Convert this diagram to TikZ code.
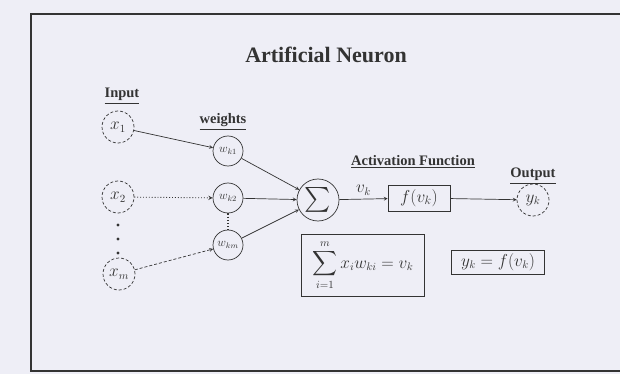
\documentclass[tikz,border=0pt]{standalone}
\usepackage{amsmath}
\usepackage{fontspec}
\setmainfont{Liberation Serif}
\usepackage{tikz}
\usetikzlibrary{positioning}
\definecolor{paper}{HTML}{EEEEF6}
\definecolor{ink}{HTML}{333333}

\begin{document}
\begin{tikzpicture}[x=1pt,y=-1pt,
        inp/.style={circle, draw=ink, densely dashed, minimum size=32pt, inner sep=0pt, font=\fontsize{16}{18}\selectfont},
        wgt/.style={circle, draw=ink, minimum size=30pt, inner sep=0pt, font=\fontsize{12}{14}\selectfont},
        box/.style={draw=ink, rectangle, inner sep=3pt},
        lbl/.style={font=\bfseries\fontsize{14.5}{16}\selectfont, text=ink},
        >=stealth, ink, line width=0.7pt]
        % paper and frame
        \fill[paper] (0,0) rectangle (620,374);
        \useasboundingbox (0,0) rectangle (620,374);
        \draw[line width=1.2pt] (620,14) -- (31,14) -- (31,371) -- (620,371);

        \node[font=\bfseries\fontsize{22}{25}\selectfont] (title) at (326,55) {Artificial Neuron};

        % Inputs
        \node[lbl] (inlbl) at (122,96) {\underline{Input}};
        \node[inp] (x1) at (118,127) {$x_1$};
        \node[inp] (x2) at (118,197) {$x_2$};
        \node[inp] (xm) at (119,274) {$x_m$};
        \foreach \y in {225,239,253} \fill (118,\y) circle (1.6pt);

        % Weights
        \node[lbl] (wlbl) at (223,122) {\underline{weights}};
        \node[wgt] (w1) at (228,151) {$w_{k1}$};
        \node[wgt] (w2) at (228,198) {$w_{k2}$};
        \node[wgt] (wm) at (228,245) {$w_{km}$};
        \draw[dotted, line width=1.2pt] (w2) -- (wm);

        \draw[->] (x1) -- (w1);
        \draw[->, dotted, line width=0.9pt] (x2) -- (w2);
        \draw[->, densely dashed] (xm) -- (wm);

        % Summation
        \node[circle, draw=ink, minimum size=42pt, inner sep=0pt] (sum) at (318,200) {\fontsize{24}{26}\selectfont$\sum$};
        \draw[->] (w1) -- (sum);
        \draw[->] (w2) -- (sum);
        \draw[->] (wm) -- (sum);

        % Activation
        \node[lbl] (actlbl) at (413,162) {\underline{Activation Function}};
        \node[box, minimum width=62pt, minimum height=26pt, font=\fontsize{17}{19}\selectfont] (act) at (419,198) {$f(v_k)$};
        \draw[->] (sum) -- node[above, font=\fontsize{16}{18}\selectfont] {$v_k$} (act);

        % Output
        \node[lbl] (outlbl) at (533,176) {\underline{Output}};
        \node[inp] (yk) at (533,200) {$y_k$};
        \draw[->] (act) -- (yk);

        % Formulas
        \node[box, minimum width=123pt, minimum height=62pt, inner sep=1pt, font=\fontsize{16}{18}\selectfont] (eqsum) at (363,265)
            {$\displaystyle\sum_{i=1}^{m} x_i w_{ki} = v_k$};
        \node[box, minimum width=93pt, minimum height=24pt, font=\fontsize{16}{18}\selectfont] (eqout) at (498,262)
            {$y_k = f(v_k)$};
    \end{tikzpicture}
\end{document}
